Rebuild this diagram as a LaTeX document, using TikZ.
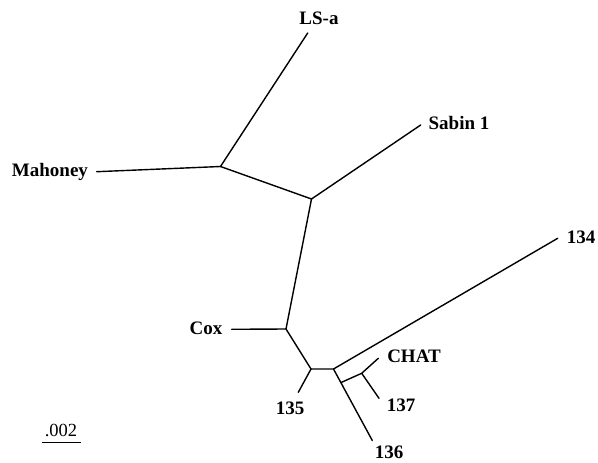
\documentclass[tikz,border=0pt]{standalone}
\usepackage{fontspec}
\setmainfont{Liberation Serif}
\usetikzlibrary{calc}
\begin{document}
\begin{tikzpicture}[x=1pt,y=-1pt,
  br/.style={line width=1.4pt, line cap=round},
  lbl/.style={font=\fontsize{19}{20}\selectfont\bfseries, inner sep=0pt},
  scl/.style={font=\fontsize{18.5}{20}\selectfont, inner sep=0pt}]
\useasboundingbox (0,0) rectangle (598,463);
% internal nodes
\coordinate (jM) at (220.5,166.5);
\coordinate (jS) at (311.5,199);
\coordinate (jC) at (286,329);
\coordinate (j135) at (311,369);
\coordinate (jA) at (333.5,369);
\coordinate (t136) at (372.3,440.5);
\coordinate (jB) at ($(jA)!0.19!(t136)$);
\coordinate (jCH) at (361.7,373.3);
% tips
\coordinate (tLS) at (307.7,33);
\coordinate (tM) at (96.7,171.7);
\coordinate (tS) at (420.7,125);
\coordinate (tC) at (231.7,329.3);
\coordinate (t135) at (298.3,392.3);
\coordinate (t134) at (557.7,238.3);
\coordinate (tCH) at (378.3,358.3);
\coordinate (t137) at (379,398.3);
% labels
\node[lbl] (LS) at (319,18) {LS-a};
\node[lbl] (Mah) at (50,172) {Mahoney};
\node[lbl] (Sab) at (459,123) {Sabin 1};
\node[lbl] (Cox) at (206,328) {Cox};
\node[lbl] (n134) at (581,237) {134};
\node[lbl] (n135) at (290,408) {135};
\node[lbl] (CHAT) at (414,356.5) {CHAT};
\node[lbl] (n137) at (401,405) {137};
\node[lbl] (n136) at (389,452) {136};
% branches
\draw[br] (tM) -- (jM) -- (tLS);
\draw[br] (jM) -- (jS) -- (tS);
\draw[br] (jS) -- (jC) -- (tC);
\draw[br] (jC) -- (j135) -- (t135);
\draw[br] (j135) -- (jA) -- (t134);
\draw[br] (jA) -- (t136);
\draw[br] (jB) -- (jCH) -- (tCH);
\draw[br] (jCH) -- (t137);
% scale bar
\coordinate (sb1) at (41.7,442.7);
\coordinate (sb2) at (81,442.7);
\node[scl] (sc) at (61,430) {.002};
\draw[line width=0.8pt] (sb1) -- (sb2);
\end{tikzpicture}
\end{document}
